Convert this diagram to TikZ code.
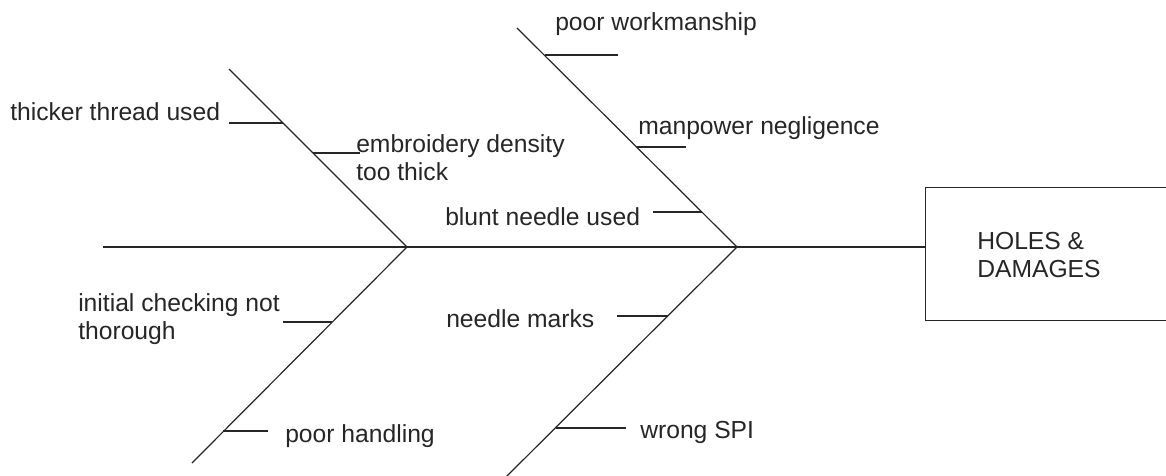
\documentclass[tikz,border=0pt]{standalone}
\usepackage{fontspec}
\setmainfont{Liberation Sans}
\begin{document}
\begin{tikzpicture}[x=0.75pt,y=-0.75pt,
  bone/.style={draw=black!85, line width=0.9pt},
  lbl/.style={inner sep=0pt, anchor=base west, align=left, text=black!85,
              font=\fontsize{18.5}{21}\selectfont},
  effectbox/.style={draw=black!85, line width=0.9pt, inner sep=0pt, anchor=north west,
              minimum width=260*0.75pt, minimum height=133*0.75pt}]
\useasboundingbox (0,0) rectangle (1166,475);
\clip (0,0) rectangle (1166,475);

% spine and junctions
\coordinate (tail) at (103,247);
\coordinate (j1) at (407,247);
\coordinate (j2) at (737,247);
\node[effectbox] (box) at (925,187) {};
\node[lbl] (effect) at (977,277) {HOLES \&\\DAMAGES};

% rib ends
\coordinate (ulTop) at (229,69);
\coordinate (llBot) at (192,463);
\coordinate (urTop) at (517,28);
\coordinate (lrBot) at (505,478);

\draw[bone] (tail) -- (j1) -- (j2) -- (j2 -| box.west);
\draw[bone] (ulTop) -- (j1) -- (llBot);
\draw[bone] (urTop) -- (j2) -- (lrBot);

% branch points on the ribs
\coordinate (b1a) at (283,123); \coordinate (b1b) at (229,123);
\coordinate (b2a) at (313,153); \coordinate (b2b) at (360,153);
\coordinate (b3a) at (545,55);  \coordinate (b3b) at (618,55);
\coordinate (b4a) at (637,147); \coordinate (b4b) at (686,147);
\coordinate (b5a) at (702,212); \coordinate (b5b) at (653,212);
\coordinate (b6a) at (332,322); \coordinate (b6b) at (283,322);
\coordinate (b7a) at (223,431); \coordinate (b7b) at (268,431);
\coordinate (b8a) at (668,316); \coordinate (b8b) at (617,316);
\coordinate (b9a) at (556,428); \coordinate (b9b) at (626,428);

\foreach \i in {1,...,9} {\draw[bone] (b\i a) -- (b\i b);}

% labels
\node[lbl] (t1) at (10,120) {thicker thread used};
\node[lbl] (t2) at (356,180) {embroidery density\\too thick};
\node[lbl] (t3) at (555,30) {poor workmanship};
\node[lbl] (t4) at (638,134) {manpower negligence};
\node[lbl] (t5) at (445,225) {blunt needle used};
\node[lbl] (t6) at (78,339) {initial checking not\\thorough};
\node[lbl] (t7) at (285,442) {poor handling};
\node[lbl] (t8) at (446,327) {needle marks};
\node[lbl] (t9) at (640,438) {wrong SPI};
\end{tikzpicture}
\end{document}
